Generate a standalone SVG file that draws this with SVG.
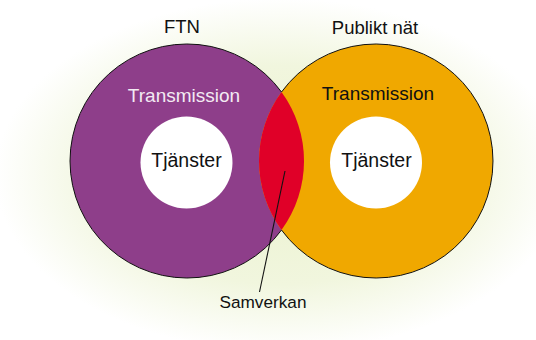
<svg xmlns="http://www.w3.org/2000/svg" width="536" height="340" viewBox="0 0 536 340">
  <defs>
    <radialGradient id="bg" cx="280" cy="175" r="285" gradientUnits="userSpaceOnUse" gradientTransform="translate(0 175) scale(1 0.62) translate(0 -175)">
      <stop offset="0" stop-color="#EBF2CF"/>
      <stop offset="0.62" stop-color="#F1F6DE"/>
      <stop offset="1" stop-color="#FFFFFF"/>
    </radialGradient>
  </defs>
  <style>
    text { font-family: "Liberation Sans", Arial, Helvetica, sans-serif; text-anchor: middle; fill: #111; }
    .title { font-size: 18.5px; }
    .ring { font-size: 19px; }
    .core { font-size: 19.5px; }
    .small { font-size: 17.2px; }
    .hole { fill: #FFFFFF; }
    .outline { fill: none; stroke: #111; stroke-width: 1; }
    .leader { fill: none; stroke: #111; stroke-width: 1.1; }
  </style>
  <rect x="0" y="0" width="536" height="340" fill="url(#bg)"/>

  <g id="ftn">
    <circle cx="187" cy="161" r="117" fill="#8E3E8A"/>
    <text class="title" x="182" y="33">FTN</text>
  </g>

  <g id="publikt">
    <circle cx="376" cy="161" r="117" fill="#F0A800"/>
    <text class="title" x="375" y="34">Publikt nät</text>
  </g>

  <g id="samverkan">
    <path d="M281.5,92 A117,117 0 0 1 281.5,230 A117,117 0 0 1 281.5,92 Z" fill="#E00028"/>
    <text class="small" x="263" y="308">Samverkan</text>
  </g>

  <path class="outline" d="M281.5,92 A117,117 0 1 0 281.5,230 A117,117 0 1 0 281.5,92 Z"/>

  <g id="ftn-inner">
    <text class="ring" x="184" y="101.5" style="fill:#F3EAF3">Transmission</text>
    <circle class="hole" cx="186.5" cy="162.5" r="46"/>
    <text class="core" x="186.5" y="167">Tjänster</text>
  </g>

  <g id="publikt-inner">
    <text class="ring" x="378" y="100">Transmission</text>
    <circle class="hole" cx="376" cy="162.5" r="46"/>
    <text class="core" x="376.5" y="167">Tjänster</text>
  </g>

  <g id="connectors">
    <line class="leader" x1="285" y1="171" x2="259.5" y2="292"/>
  </g>
</svg>
